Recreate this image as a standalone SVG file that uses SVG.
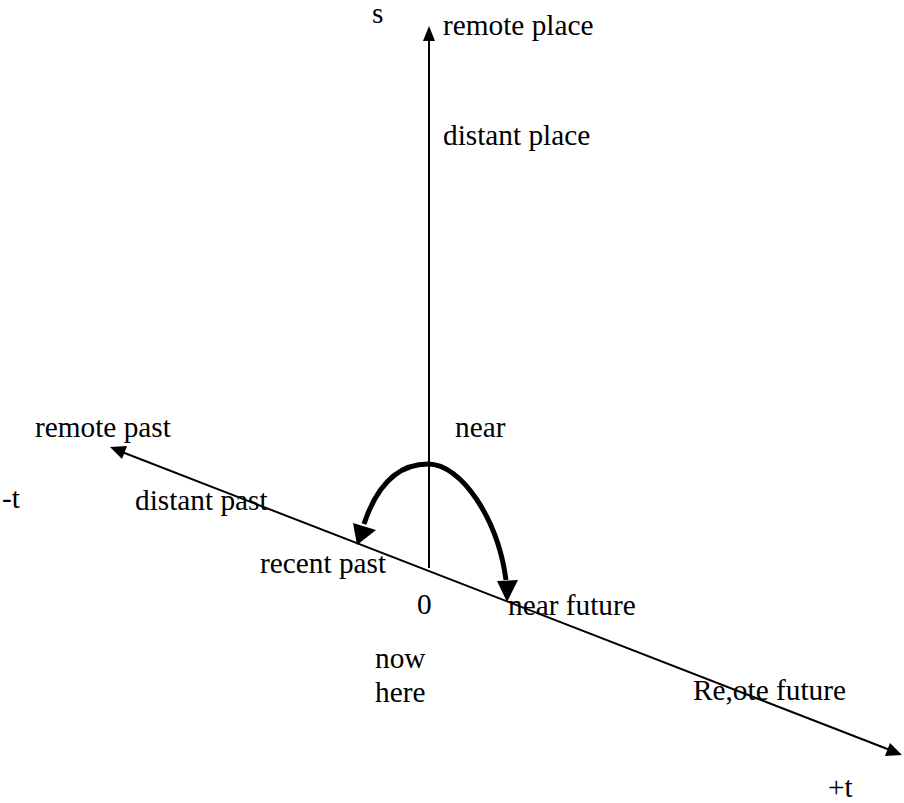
<svg xmlns="http://www.w3.org/2000/svg" width="904" height="803" viewBox="0 0 904 803">
<style>
text{font-family:"Liberation Serif","Times New Roman",serif;font-size:29.3px;fill:#000}
.ax{stroke:#000;stroke-width:2;fill:none}
.arc{stroke:#000;stroke-width:5;fill:none}
.head{fill:#000}
</style>
<g id="connectors">
<line class="ax" x1="429" y1="568" x2="429" y2="40"/>
<path class="head" d="M423,41 L429,26 L435,41 z"/>
<line class="ax" x1="122" y1="452" x2="890" y2="750"/>
<path class="head" d="M110,447 L127,446 L122,459 z"/>
<path class="head" d="M902,755 L885,756 L890,743 z"/>
<path class="arc" d="M364,524 C378,482 400,464 428,464 C462,464 498,520 506,580"/>
<path class="head" d="M357,545 L353,523 L376,530 z"/>
<path class="head" d="M507,602 L497,581 L518,580 z"/>
</g>
<g id="labels">
<text x="372" y="23">s</text>
<text x="443" y="35">remote place</text>
<text x="443" y="145">distant place</text>
<text x="455" y="437">near</text>
<text x="35" y="437">remote past</text>
<text x="2" y="508">-t</text>
<text x="135" y="510">distant past</text>
<text x="260" y="573">recent past</text>
<text x="417" y="614">0</text>
<text x="508" y="615">near future</text>
<text x="375" y="668">now</text>
<text x="375" y="702">here</text>
<text x="693" y="700">Re,ote future</text>
<text x="828" y="797">+t</text>
</g>
</svg>
